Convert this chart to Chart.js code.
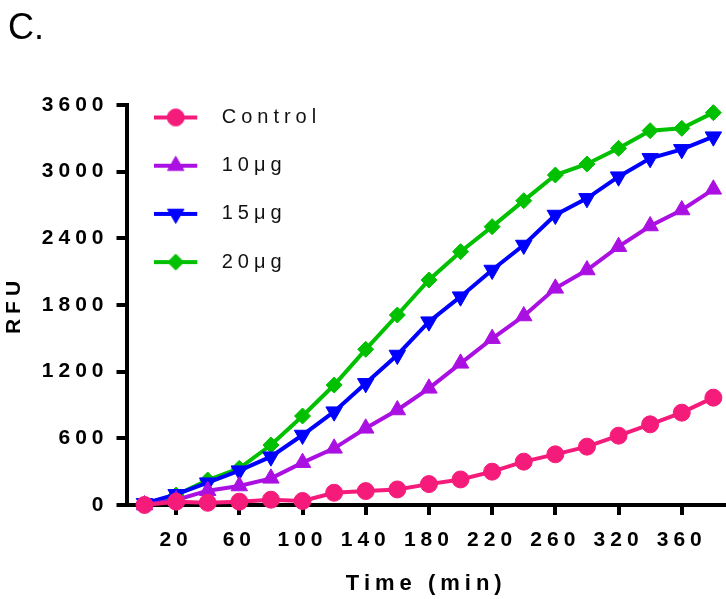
<!DOCTYPE html>
<html>
<head>
<meta charset="utf-8">
<script src="https://cdn.jsdelivr.net/npm/chart.js@4.4.1/dist/chart.umd.min.js"></script>
<style>
  body{ margin:0; background:#fff; }
  #wrap{ position:relative; width:726px; height:599px; }
  #panel{ position:absolute; left:8px; top:9px; font:36px "Liberation Sans", Arial, sans-serif; color:#000; line-height:36px; }
</style>
</head>
<body>
<div id="wrap">
  <canvas id="rfuChart" width="726" height="599"></canvas>
  <div id="panel">C.</div>
</div>
<script>
/* =========================
   DATA
========================= */
const sampleIdx = [0, 1, 2, 3, 4, 5, 6, 7, 8, 9, 10, 11, 12, 13, 14, 15, 16, 17, 18];

const control = [0, 30, 20, 30, 48, 36, 110, 125, 140, 188, 230, 300, 390, 456, 525, 624, 726, 831, 966];
const dose10  = [0, 45, 129, 171, 240, 381, 510, 690, 855, 1050, 1275, 1497, 1701, 1950, 2115, 2325, 2511, 2655, 2841];
const dose15  = [15, 96, 201, 309, 435, 630, 840, 1095, 1350, 1650, 1875, 2115, 2340, 2610, 2760, 2955, 3120, 3201, 3315];
const dose20  = [0, 90, 225, 330, 540, 801, 1080, 1401, 1710, 2025, 2280, 2505, 2739, 2970, 3069, 3210, 3369, 3390, 3531];

const seriesNames = ['Control', '10\u03bcg', '15\u03bcg', '20\u03bcg'];

const xTickIdx    = [1, 3, 5, 7, 9, 11, 13, 15, 17];
const xTickLabels = ['20', '60', '100', '140', '180', '220', '260', '320', '360'];
const yTicks      = [0, 600, 1200, 1800, 2400, 3000, 3600];

/* =========================
   STYLE
========================= */
const FONT = '"Liberation Sans", Arial, sans-serif';
const PINK = '#F51B7A', PURPLE = '#AB10E2', BLUE = '#0000FF', GREEN = '#00C000';

function pts(vals){
    return vals.map((v, i) => ({x: sampleIdx[i], y: v}));
}

function makeIcon(color, style, rot, radius){
    const c = document.createElement('canvas');
    c.width = 58; c.height = 24;
    const g = c.getContext('2d');
    g.strokeStyle = color; g.fillStyle = color; g.lineWidth = 4;
    g.beginPath(); g.moveTo(0, 12); g.lineTo(43, 12); g.stroke();
    g.lineWidth = 1;
    Chart.helpers.drawPoint(g, {pointStyle: style, rotation: rot, radius: radius, borderWidth: 1}, 21.5, 12);
    return c;
}

const legendIcons = [
    makeIcon(PINK, 'circle', 0, 8.5),
    makeIcon(PURPLE, 'triangle', 0, 9.5),
    makeIcon(BLUE, 'triangle', 180, 9.5),
    makeIcon(GREEN, 'rectRot', 0, 8)
];

function ds(label, vals, color, style, rot, radius){
    return {
        label: label,
        data: pts(vals),
        borderColor: color,
        backgroundColor: color,
        borderWidth: 4,
        pointStyle: style,
        rotation: rot,
        pointRadius: radius,
        pointHoverRadius: radius,
        pointBorderWidth: 1,
        tension: 0,
        clip: false
    };
}

/* =========================
   LETTER SPACING + LEGEND SPOT
========================= */
const spacingPlugin = {
    id: 'spacing',
    beforeLayout(chart){ chart.ctx.letterSpacing = '5px'; },
    beforeDraw(chart){
        chart.ctx.letterSpacing = '5px';
        chart.legend.top = chart.chartArea.top - 25.7;
    }
};

/* =========================
   CHART
========================= */
new Chart(document.getElementById('rfuChart'), {
    type: 'line',
    data: {
        datasets: [
            ds(seriesNames[0], control, PINK, 'circle', 0, 8.5),
            ds(seriesNames[1], dose10, PURPLE, 'triangle', 0, 9.5),
            ds(seriesNames[2], dose15, BLUE, 'triangle', 180, 9.5),
            ds(seriesNames[3], dose20, GREEN, 'rectRot', 0, 8)
        ]
    },
    options: {
        responsive: false,
        animation: false,
        devicePixelRatio: 1,
        layout: { autoPadding: false, padding: {top: 105, left: 0, right: 0, bottom: 0} },
        plugins: {
            tooltip: { enabled: false },
            legend: {
                position: 'chartArea',
                align: 'start',
                labels: {
                    usePointStyle: true,
                    pointStyleWidth: 57,
                    padding: 28.2,
                    color: '#111',
                    font: { family: FONT, size: 20 },
                    generateLabels(chart){
                        return Chart.defaults.plugins.legend.labels.generateLabels(chart).map((l, i) => {
                            l.pointStyle = legendIcons[i];
                            l.rotation = 0;
                            return l;
                        });
                    }
                }
            }
        },
        scales: {
            x: {
                type: 'linear',
                bounds: 'data',
                min: -0.57,
                max: 18.4,
                afterBuildTicks(axis){ axis.ticks = xTickIdx.map(v => ({value: v})); },
                afterFit(axis){
                    axis.height = 94;
                    axis.paddingLeft = 0;
                    axis.paddingRight = 0;
                },
                ticks: {
                    autoSkip: false,
                    maxRotation: 0,
                    padding: 13,
                    color: '#000',
                    font: { family: FONT, size: 21, weight: 'bold' },
                    callback: (v, i) => xTickLabels[i]
                },
                grid: { drawOnChartArea: false, tickLength: 10, lineWidth: 4, tickWidth: 4, tickColor: '#000' },
                border: { width: 4, color: '#000' },
                title: {
                    display: true,
                    text: 'Time (min)',
                    color: '#000',
                    font: { family: FONT, size: 22, weight: 'bold' },
                    padding: { top: 0, bottom: 2 }
                }
            },
            y: {
                min: 0,
                max: 3600,
                afterBuildTicks(axis){ axis.ticks = yTicks.map(v => ({value: v})); },
                afterFit(axis){ axis.width = 126.5; },
                ticks: {
                    padding: 8,
                    color: '#000',
                    font: { family: FONT, size: 21, weight: 'bold' },
                    callback: v => String(v)
                },
                grid: { drawOnChartArea: false, tickLength: 10, lineWidth: 4, tickWidth: 4, tickColor: '#000' },
                border: { width: 4, color: '#000' },
                title: {
                    display: true,
                    text: 'RFU',
                    color: '#000',
                    font: { family: FONT, size: 21, weight: 'bold' },
                    padding: { top: 2, bottom: 0 }
                }
            }
        }
    },
    plugins: [spacingPlugin]
});
</script>
</body>
</html>
